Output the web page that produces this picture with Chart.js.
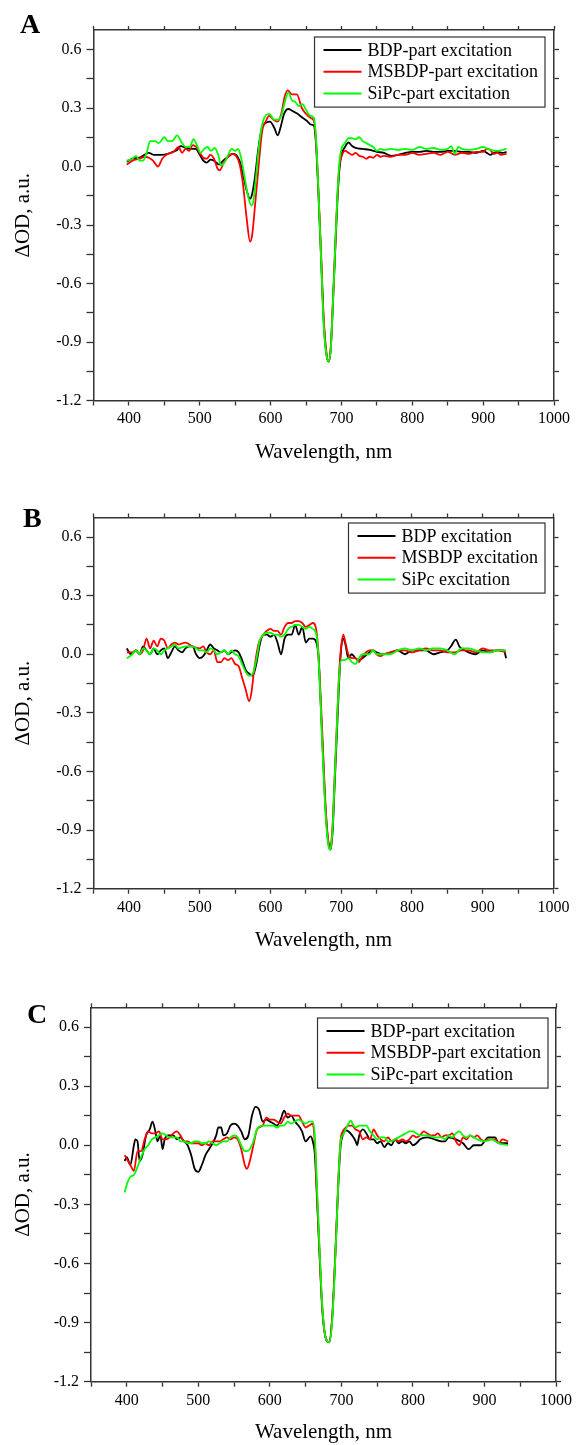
<!DOCTYPE html>
<html lang="en">
  <head>
    <meta charset="UTF-8" />
    <title>Transient absorption spectra</title>
    <script src="https://cdn.jsdelivr.net/npm/chart.js"></script>
    <style>
      body {
        margin: 0;
        background: #fff;
        width: 576px;
        height: 1445px;
        position: relative;
        overflow: hidden;
      }
      canvas {
        position: absolute;
        left: 0;
      }
    </style>
  </head>
  <body>
    <canvas id="chartA" width="576" height="480" style="top:0"></canvas>
    <canvas id="chartB" width="576" height="480" style="top:480px"></canvas>
    <canvas id="chartC" width="576" height="485" style="top:960px"></canvas>

    <script>
      // axis ticks (minor every 50 nm / 0.15, labels on the majors)
      const X_TICKS = [350, 400, 450, 500, 550, 600, 650, 700, 750, 800, 850, 900, 950, 1000];
      const X_LABELS = [400, 500, 600, 700, 800, 900, 1000];
      const Y_TICKS = [-1.2, -1.05, -0.9, -0.75, -0.6, -0.45, -0.3, -0.15, 0, 0.15, 0.3, 0.45, 0.6];
      const Y_LABELS = [-1.2, -0.9, -0.6, -0.3, 0, 0.3, 0.6];

      const LABELS_PART = ['BDP-part excitation', 'MSBDP-part excitation', 'SiPc-part excitation'];
      const LABELS_PLAIN = ['BDP excitation', 'MSBDP excitation', 'SiPc excitation'];

      // panel A  [wavelength nm, dOD]
      const A_BDP = [[397,0.025],[405,0.04],[415,0.045],[422,0.06],[428,0.07],[435,0.06],[445,0.06],[455,0.065],[462,0.075],[468,0.085],[473,0.105],[480,0.095],[487,0.09],[494,0.09],[500,0.06],[505,0.03],[510,0.02],[515,0.035],[520,0.03],[527,0.01],[533,0.03],[540,0.05],[546,0.065],[551,0.06],[556,0.03],[561,-0.04],[566,-0.12],[571,-0.165],[574,-0.14],[578,-0.05],[583,0.1],[588,0.2],[594,0.225],[599,0.23],[605,0.2],[610,0.16],[614,0.2],[619,0.27],[625,0.295],[631,0.285],[638,0.27],[645,0.25],[651,0.235],[657,0.215],[661,0.21],[664,0.12],[667,-0.1],[671,-0.45],[675,-0.8],[679,-0.97],[682,-1.0],[685,-0.93],[688,-0.7],[691,-0.45],[694,-0.2],[697,-0.02],[700,0.06],[705,0.1],[710,0.123],[715,0.105],[720,0.095],[730,0.09],[740,0.085],[750,0.075],[760,0.07],[770,0.055],[780,0.06],[790,0.07],[800,0.075],[810,0.075],[820,0.08],[830,0.075],[840,0.075],[850,0.08],[860,0.08],[870,0.075],[880,0.075],[890,0.07],[900,0.08],[905,0.07],[910,0.06],[915,0.07],[920,0.075],[927,0.07],[933,0.075]];
      const A_MSBDP = [[397,0.01],[405,0.03],[415,0.04],[422,0.05],[428,0.045],[434,0.03],[441,0.0],[447,0.04],[455,0.065],[463,0.075],[470,0.1],[475,0.07],[480,0.09],[485,0.08],[490,0.11],[495,0.1],[500,0.07],[505,0.045],[510,0.04],[515,0.06],[520,0.04],[525,-0.01],[528,-0.02],[534,0.02],[540,0.05],[546,0.065],[551,0.055],[556,0.015],[561,-0.09],[566,-0.26],[571,-0.385],[574,-0.35],[578,-0.2],[583,0.0],[588,0.18],[593,0.23],[598,0.26],[604,0.24],[610,0.23],[615,0.27],[620,0.36],[624,0.39],[630,0.37],[637,0.37],[644,0.3],[650,0.27],[656,0.25],[661,0.235],[664,0.14],[667,-0.08],[671,-0.42],[675,-0.78],[679,-0.96],[682,-1.0],[685,-0.92],[688,-0.68],[691,-0.42],[694,-0.17],[697,0.0],[700,0.05],[705,0.08],[710,0.07],[715,0.06],[720,0.07],[725,0.055],[730,0.05],[735,0.04],[740,0.05],[745,0.045],[750,0.06],[755,0.05],[760,0.055],[770,0.05],[780,0.06],[790,0.06],[800,0.07],[810,0.06],[820,0.065],[830,0.07],[840,0.06],[850,0.075],[860,0.06],[870,0.07],[880,0.065],[890,0.075],[900,0.075],[905,0.09],[910,0.085],[915,0.065],[920,0.07],[925,0.06],[933,0.065]];
      const A_SIPC = [[397,0.03],[405,0.04],[410,0.055],[415,0.03],[420,0.03],[425,0.07],[430,0.13],[437,0.13],[442,0.12],[450,0.15],[455,0.13],[461,0.13],[468,0.16],[475,0.12],[480,0.1],[486,0.1],[491,0.14],[496,0.11],[501,0.07],[506,0.09],[511,0.1],[516,0.08],[521,0.095],[526,0.06],[530,0.005],[535,0.02],[540,0.06],[545,0.09],[550,0.08],[554,0.09],[558,0.05],[563,-0.05],[568,-0.15],[573,-0.2],[576,-0.17],[580,-0.03],[585,0.15],[590,0.24],[598,0.27],[605,0.24],[610,0.24],[615,0.26],[620,0.33],[625,0.38],[630,0.34],[635,0.33],[640,0.31],[645,0.32],[650,0.29],[656,0.26],[661,0.25],[664,0.15],[667,-0.08],[671,-0.45],[675,-0.82],[679,-0.97],[682,-1.0],[685,-0.93],[688,-0.7],[691,-0.43],[694,-0.17],[697,0.02],[700,0.09],[705,0.12],[710,0.145],[715,0.145],[720,0.14],[725,0.15],[730,0.13],[735,0.12],[740,0.11],[745,0.1],[750,0.08],[755,0.09],[760,0.085],[770,0.09],[780,0.085],[790,0.09],[800,0.085],[810,0.1],[820,0.09],[830,0.095],[840,0.085],[850,0.09],[855,0.105],[860,0.065],[865,0.1],[870,0.09],[880,0.085],[890,0.09],[900,0.1],[910,0.085],[920,0.08],[933,0.09]];

      // panel B
      const B_BDP = [[397,0.03],[403,0.0],[410,0.02],[415,0.0],[420,0.04],[425,0.02],[430,0.0],[435,0.03],[440,0.0],[445,0.02],[450,0.03],[455,-0.02],[460,0.01],[465,0.04],[470,0.02],[475,0.01],[480,0.03],[485,0.04],[490,0.04],[495,0.0],[500,-0.02],[505,-0.01],[510,0.02],[515,0.05],[520,0.03],[525,0.02],[530,0.01],[535,0.02],[540,0.0],[545,0.01],[550,0.02],[555,0.01],[560,-0.03],[565,-0.08],[570,-0.1],[575,-0.11],[580,-0.05],[585,0.05],[590,0.1],[595,0.1],[600,0.09],[605,0.1],[610,0.06],[615,0.0],[620,0.08],[625,0.1],[630,0.1],[635,0.15],[640,0.1],[645,0.14],[650,0.06],[655,0.08],[660,0.08],[665,0.06],[668,-0.02],[671,-0.25],[674,-0.5],[678,-0.8],[682,-0.97],[685,-1.0],[688,-0.9],[691,-0.65],[694,-0.4],[697,-0.15],[700,0.03],[703,0.08],[706,0.05],[710,-0.02],[715,0.0],[720,-0.02],[725,-0.03],[730,-0.02],[740,0.01],[745,0.02],[750,0.01],[760,0.0],[770,0.01],[780,0.02],[790,0.0],[800,0.02],[810,0.02],[820,0.02],[830,0.0],[840,0.01],[850,0.02],[855,0.04],[862,0.075],[867,0.04],[870,0.03],[880,0.01],[890,0.0],[900,0.02],[910,0.01],[920,0.02],[930,0.02],[933,-0.02]];
      const B_MSBDP = [[397,0.01],[405,0.01],[410,0.02],[415,0.0],[420,0.02],[425,0.08],[430,0.03],[435,0.07],[440,0.04],[445,0.08],[450,0.07],[455,0.03],[460,0.05],[465,0.06],[470,0.05],[480,0.06],[490,0.04],[500,0.03],[505,0.04],[510,0.01],[515,0.0],[520,0.02],[525,-0.04],[530,-0.04],[535,-0.02],[540,-0.03],[545,-0.02],[550,-0.05],[555,-0.06],[560,-0.12],[565,-0.18],[570,-0.24],[573,-0.2],[577,-0.08],[583,0.05],[590,0.1],[595,0.12],[600,0.13],[605,0.12],[610,0.12],[615,0.1],[620,0.14],[625,0.16],[630,0.16],[635,0.17],[640,0.17],[645,0.16],[650,0.14],[655,0.15],[660,0.16],[665,0.12],[668,0.0],[671,-0.22],[674,-0.46],[678,-0.78],[682,-0.96],[685,-0.98],[688,-0.86],[691,-0.6],[694,-0.35],[697,-0.1],[700,0.04],[703,0.1],[706,0.06],[710,0.0],[715,-0.02],[720,-0.02],[725,-0.04],[730,-0.01],[740,0.02],[745,0.02],[750,0.0],[755,-0.01],[760,0.0],[770,0.01],[780,0.02],[790,0.02],[800,0.01],[810,0.02],[820,0.03],[830,0.02],[840,0.02],[850,0.01],[860,0.01],[870,0.02],[880,0.02],[890,0.01],[900,0.03],[910,0.02],[920,0.02],[933,0.01]];
      const B_SIPC = [[397,-0.02],[405,0.0],[410,0.02],[415,0.0],[420,0.03],[425,0.02],[430,0.0],[435,0.03],[440,0.02],[445,0.0],[450,0.02],[455,0.03],[460,0.04],[465,0.05],[470,0.03],[480,0.04],[490,0.04],[495,0.03],[500,0.02],[505,0.02],[510,0.01],[515,0.03],[520,0.02],[525,0.0],[530,0.01],[535,0.02],[540,0.0],[545,0.02],[550,0.0],[555,-0.01],[560,-0.05],[565,-0.09],[570,-0.11],[575,-0.1],[580,-0.03],[585,0.07],[590,0.1],[595,0.11],[600,0.11],[605,0.1],[610,0.1],[615,0.09],[620,0.1],[625,0.13],[630,0.14],[635,0.15],[640,0.15],[645,0.14],[650,0.13],[655,0.14],[660,0.13],[665,0.1],[668,-0.02],[671,-0.26],[674,-0.52],[678,-0.82],[682,-0.98],[685,-1.0],[688,-0.88],[691,-0.62],[694,-0.36],[697,-0.12],[700,-0.03],[705,-0.03],[710,-0.02],[715,-0.04],[720,-0.05],[725,-0.02],[730,0.0],[740,0.0],[745,0.02],[750,0.0],[760,0.0],[770,0.0],[780,0.02],[790,0.03],[800,0.02],[810,0.03],[820,0.02],[830,0.03],[840,0.03],[850,0.02],[860,0.0],[870,0.03],[880,0.03],[890,0.02],[900,0.01],[910,0.01],[920,0.02],[933,0.02]];

      // panel C
      const C_BDP = [[397,-0.08],[400,-0.06],[405,-0.1],[410,0.0],[412,0.03],[415,0.02],[418,-0.08],[422,-0.05],[427,0.05],[432,0.08],[436,0.12],[440,0.07],[443,0.02],[447,0.05],[450,-0.02],[453,0.03],[458,0.05],[465,0.05],[470,0.03],[475,0.04],[480,0.02],[485,0.0],[490,-0.05],[495,-0.12],[500,-0.135],[505,-0.1],[510,-0.05],[515,-0.02],[520,0.01],[525,0.05],[528,0.09],[532,0.09],[535,0.05],[540,0.06],[545,0.1],[550,0.11],[555,0.1],[560,0.07],[565,0.03],[570,0.05],[575,0.15],[580,0.195],[585,0.18],[590,0.12],[595,0.13],[600,0.12],[605,0.11],[610,0.1],[615,0.13],[620,0.175],[625,0.14],[630,0.15],[635,0.12],[640,0.1],[645,0.07],[650,0.02],[653,0.03],[657,0.045],[660,0.02],[663,-0.05],[666,-0.28],[669,-0.52],[673,-0.82],[677,-0.96],[683,-1.0],[687,-0.88],[690,-0.68],[693,-0.43],[696,-0.18],[699,0.0],[702,0.05],[706,0.075],[710,0.07],[715,0.05],[720,0.02],[722,0.0],[725,0.05],[730,0.08],[735,0.06],[740,0.03],[745,0.03],[750,0.01],[755,0.02],[760,-0.01],[765,0.01],[770,0.0],[775,0.03],[780,0.01],[785,0.02],[790,0.01],[795,0.02],[800,0.0],[805,0.01],[810,0.03],[820,0.04],[830,0.03],[840,0.02],[845,0.02],[850,0.04],[860,0.03],[870,0.01],[878,-0.02],[885,0.0],[890,0.0],[895,0.0],[900,0.02],[905,0.04],[910,0.04],[915,0.04],[920,0.01],[925,0.01],[933,0.01]];
      const C_MSBDP = [[397,-0.05],[400,-0.07],[405,-0.1],[410,-0.13],[415,-0.03],[420,-0.03],[425,0.03],[430,0.07],[435,0.06],[440,0.06],[445,0.07],[450,0.03],[455,0.03],[460,0.04],[465,0.06],[470,0.07],[475,0.05],[480,0.02],[485,0.02],[490,0.01],[495,0.01],[500,0.01],[505,0.0],[510,0.01],[515,0.0],[520,0.02],[530,0.02],[535,0.03],[540,0.04],[545,0.03],[550,0.04],[555,0.03],[560,-0.02],[565,-0.1],[568,-0.12],[572,-0.08],[577,0.0],[582,0.08],[590,0.1],[595,0.14],[600,0.13],[605,0.13],[610,0.12],[615,0.11],[620,0.14],[625,0.16],[630,0.15],[635,0.15],[640,0.15],[645,0.12],[650,0.09],[655,0.1],[660,0.11],[663,0.0],[666,-0.25],[669,-0.5],[673,-0.8],[677,-0.96],[683,-1.0],[687,-0.89],[690,-0.68],[693,-0.42],[696,-0.15],[699,0.03],[702,0.07],[706,0.09],[710,0.1],[715,0.1],[720,0.08],[725,0.07],[730,0.03],[735,0.04],[740,0.03],[745,0.08],[750,0.05],[755,0.03],[760,0.02],[765,0.04],[770,0.02],[775,0.03],[780,0.02],[785,0.03],[790,0.02],[795,0.03],[800,0.05],[805,0.04],[810,0.05],[815,0.07],[820,0.06],[825,0.05],[830,0.05],[835,0.06],[840,0.04],[845,0.05],[850,0.05],[855,0.06],[860,0.02],[865,0.0],[870,0.04],[875,0.03],[880,0.05],[885,0.04],[890,0.05],[895,0.03],[900,0.02],[905,0.03],[910,0.03],[915,0.03],[920,0.01],[925,0.03],[933,0.02]];
      const C_SIPC = [[397,-0.24],[400,-0.2],[405,-0.16],[410,-0.15],[415,-0.11],[420,-0.06],[425,-0.02],[430,0.0],[435,0.03],[440,0.04],[445,0.05],[450,0.06],[455,0.05],[460,0.04],[465,0.04],[470,0.04],[475,0.02],[480,0.02],[485,0.01],[490,0.01],[495,0.02],[500,0.02],[505,0.01],[510,0.01],[515,0.02],[520,0.01],[525,0.0],[530,0.01],[535,0.02],[540,0.02],[545,0.04],[550,0.05],[555,0.04],[560,0.0],[565,-0.03],[568,-0.03],[572,-0.02],[577,0.02],[582,0.08],[590,0.1],[595,0.1],[600,0.1],[605,0.1],[610,0.09],[615,0.1],[620,0.1],[625,0.12],[630,0.11],[635,0.12],[640,0.13],[645,0.12],[650,0.11],[655,0.12],[660,0.12],[663,0.04],[666,-0.22],[669,-0.48],[673,-0.8],[677,-0.96],[683,-1.0],[687,-0.9],[690,-0.7],[693,-0.44],[696,-0.16],[699,0.02],[702,0.05],[706,0.08],[710,0.11],[713,0.125],[717,0.1],[720,0.09],[725,0.1],[730,0.1],[735,0.1],[740,0.07],[745,0.05],[750,0.03],[755,0.04],[760,0.04],[765,0.02],[770,0.02],[775,0.03],[780,0.04],[785,0.05],[790,0.06],[795,0.07],[800,0.07],[805,0.06],[810,0.05],[820,0.05],[830,0.04],[840,0.04],[845,0.03],[850,0.05],[855,0.04],[860,0.06],[865,0.07],[870,0.05],[875,0.04],[880,0.05],[885,0.04],[890,0.03],[900,0.02],[910,0.03],[920,0.01],[933,0.0]];

      const COLORS = ['#000000', '#ff0000', '#00ff00'];
      const SERIF = '"Liberation Serif", "Times New Roman", serif';

      Chart.defaults.font.family = SERIF;
      Chart.defaults.color = '#000';

      // panel letter + boxed legend drawn inside the plot area
      const panelDecor = {
        id: 'panelDecor',
        afterDraw(chart, args, opts) {
          const { ctx, chartArea } = chart;
          ctx.save();
          ctx.fillStyle = '#000';
          ctx.textBaseline = 'alphabetic';
          ctx.textAlign = 'left';
          ctx.font = 'bold 28px ' + SERIF;
          ctx.fillText(opts.letter, opts.letterX, opts.letterY);

          ctx.font = '18px ' + SERIF;
          const labels = opts.labels;
          const textW = Math.max(...labels.map(l => ctx.measureText(l).width));
          const lineLen = 38, rowH = 21.7;
          const right = chartArea.right - opts.boxRight;
          const left = right - (9 + lineLen + 6 + textW + 7);
          const top = chartArea.top + opts.boxTop;
          const height = rowH * labels.length + 5;
          ctx.fillStyle = '#fff';
          ctx.fillRect(left, top, right - left, height);
          ctx.strokeStyle = '#333';
          ctx.lineWidth = 1.2;
          ctx.strokeRect(left, top, right - left, height);
          ctx.textBaseline = 'middle';
          labels.forEach((label, i) => {
            const y = top + 13 + i * rowH;
            ctx.strokeStyle = COLORS[i];
            ctx.lineWidth = 2;
            ctx.beginPath();
            ctx.moveTo(left + 9, y);
            ctx.lineTo(left + 9 + lineLen, y);
            ctx.stroke();
            ctx.fillStyle = '#000';
            ctx.fillText(label, left + 9 + lineLen + 6, y + 1);
          });
          ctx.restore();
        }
      };

      function makePanel(id, series, labels, g) {
        const frame = { color: '#333', width: 1.5 };
        const tickGrid = (len) => ({ drawOnChartArea: false, tickLength: len, tickColor: '#333', tickWidth: 1.3 });
        const setX = s => { s.ticks = X_TICKS.map(v => ({ value: v })); };
        const setY = s => { s.ticks = Y_TICKS.map(v => ({ value: v })); };

        return new Chart(document.getElementById(id), {
          type: 'line',
          data: {
            datasets: series.map((pts, i) => ({
              label: labels[i],
              data: pts.map(([x, y]) => ({ x, y })),
              borderColor: COLORS[i],
              borderWidth: 1.8,
              pointRadius: 0,
              cubicInterpolationMode: 'monotone',
              order: 2 - i
            }))
          },
          options: {
            responsive: false,
            animation: false,
            events: [],
            layout: { padding: { top: g.top - 5, right: g.w - g.right - 6, left: 0, bottom: 0 } },
            plugins: {
              legend: { display: false },
              tooltip: { enabled: false },
              panelDecor: { letter: g.letter, letterX: g.letterX, letterY: g.letterY, labels, boxRight: g.boxRight, boxTop: g.boxTop }
            },
            scales: {
              x: {
                type: 'linear', position: 'bottom', min: 350, max: 1000,
                afterBuildTicks: setX,
                afterFit: s => { s.height = g.h - g.bottom; },
                border: frame,
                grid: tickGrid(5),
                ticks: {
                  autoSkip: false, maxRotation: 0, padding: 4,
                  font: { size: 16 },
                  callback: v => X_LABELS.includes(v) ? String(v) : ''
                },
                title: { display: true, text: 'Wavelength, nm', font: { size: 21 }, padding: { top: 0, bottom: g.xTitlePad } }
              },
              x2: {
                type: 'linear', position: 'top', min: 350, max: 1000,
                afterBuildTicks: setX,
                afterFit: s => { s.height = 5; },
                border: frame,
                grid: tickGrid(4),
                ticks: { display: false }
              },
              y: {
                type: 'linear', position: 'left', min: -1.2, max: 0.7,
                afterBuildTicks: setY,
                afterFit: s => { s.width = g.left; },
                border: frame,
                grid: tickGrid(7),
                ticks: {
                  autoSkip: false, padding: 5,
                  font: { size: 16 },
                  callback: v => Y_LABELS.some(l => Math.abs(l - v) < 1e-6) ? v.toFixed(1) : ''
                },
                title: { display: true, text: 'ΔOD, a.u.', font: { size: 21 }, padding: { top: 11, bottom: 0 } }
              },
              y2: {
                type: 'linear', position: 'right', min: -1.2, max: 0.7,
                afterBuildTicks: setY,
                afterFit: s => { s.width = 6; },
                border: frame,
                grid: tickGrid(5),
                ticks: { display: false }
              }
            }
          },
          plugins: [panelDecor]
        });
      }

      makePanel('chartA', [A_BDP, A_MSBDP, A_SIPC], LABELS_PART,
        { w: 576, h: 480, left: 93.5, right: 554, top: 30, bottom: 400.5, xTitlePad: 15,
          letter: 'A', letterX: 20, letterY: 33, boxRight: 9, boxTop: 7 });
      makePanel('chartB', [B_BDP, B_MSBDP, B_SIPC], LABELS_PLAIN,
        { w: 576, h: 480, left: 93.5, right: 553.5, top: 37.5, bottom: 408.7, xTitlePad: 7,
          letter: 'B', letterX: 23, letterY: 47, boxRight: 8.5, boxTop: 5.5 });
      makePanel('chartC', [C_BDP, C_MSBDP, C_SIPC], LABELS_PART,
        { w: 576, h: 485, left: 91, right: 556.7, top: 47.3, bottom: 421.7, xTitlePad: 0,
          letter: 'C', letterX: 27, letterY: 63, boxRight: 8, boxTop: 10.7 });
    </script>
  </body>
</html>
